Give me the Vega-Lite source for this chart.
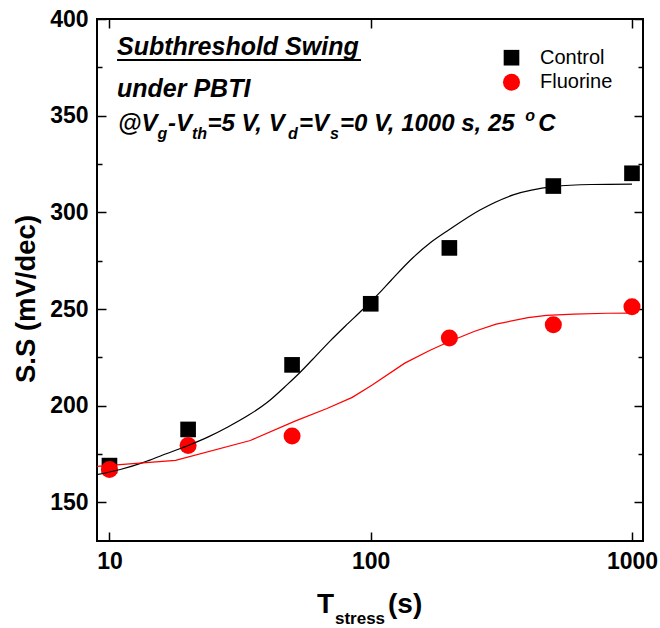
{
  "$schema": "https://vega.github.io/schema/vega-lite/v6.json",
  "width": 546,
  "height": 522,
  "autosize": {"type": "none"},
  "padding": {"left": 97, "top": 19, "right": 17, "bottom": 87},
  "background": "white",
  "config": {
    "view": {"stroke": "black", "strokeWidth": 2},
    "font": "Liberation Sans",
    "axis": {"grid": false, "domain": false, "tickColor": "black", "tickWidth": 1.5, "labelColor": "black", "labelFont": "Liberation Sans", "labelFontWeight": "bold", "labelFontSize": 23},
    "style": {
      "ann": {"font": "Liberation Sans", "fontWeight": "bold", "fontStyle": "italic", "fontSize": 24, "align": "left", "baseline": "alphabetic", "color": "black"},
      "sub": {"font": "Liberation Sans", "fontWeight": "bold", "fontStyle": "italic", "fontSize": 16, "align": "left", "baseline": "alphabetic", "color": "black"},
      "xt": {"font": "Liberation Sans", "fontWeight": "bold", "fontSize": 28, "align": "left", "baseline": "alphabetic", "color": "black"}
    }
  },
  "datasets": {
    "one": [{}],
    "points": [
      {"t": 10, "ss": 169, "series": "Control"},
      {"t": 20, "ss": 187.7, "series": "Control"},
      {"t": 50, "ss": 221.1, "series": "Control"},
      {"t": 100, "ss": 252.7, "series": "Control"},
      {"t": 200, "ss": 281.6, "series": "Control"},
      {"t": 500, "ss": 313.6, "series": "Control"},
      {"t": 1000, "ss": 320.2, "series": "Control"},
      {"t": 10, "ss": 167, "series": "Fluorine"},
      {"t": 20, "ss": 179.4, "series": "Fluorine"},
      {"t": 50, "ss": 184.3, "series": "Fluorine"},
      {"t": 200, "ss": 235, "series": "Fluorine"},
      {"t": 500, "ss": 241.9, "series": "Fluorine"},
      {"t": 1000, "ss": 251.2, "series": "Fluorine"}
    ],
    "fits": [
      {"t": 8.96, "ss": 164.3, "series": "Control"},
      {"t": 11, "ss": 167, "series": "Control"},
      {"t": 13.6, "ss": 170.8, "series": "Control"},
      {"t": 16, "ss": 174.5, "series": "Control"},
      {"t": 20, "ss": 179.4, "series": "Control"},
      {"t": 24, "ss": 184, "series": "Control"},
      {"t": 28.4, "ss": 189, "series": "Control"},
      {"t": 34, "ss": 195, "series": "Control"},
      {"t": 40, "ss": 201.5, "series": "Control"},
      {"t": 48, "ss": 211, "series": "Control"},
      {"t": 53, "ss": 216.5, "series": "Control"},
      {"t": 60, "ss": 224, "series": "Control"},
      {"t": 70, "ss": 233.5, "series": "Control"},
      {"t": 80, "ss": 241.2, "series": "Control"},
      {"t": 93, "ss": 249.6, "series": "Control"},
      {"t": 108, "ss": 258.3, "series": "Control"},
      {"t": 120, "ss": 265, "series": "Control"},
      {"t": 145, "ss": 276.5, "series": "Control"},
      {"t": 170, "ss": 284.5, "series": "Control"},
      {"t": 200, "ss": 291.1, "series": "Control"},
      {"t": 262, "ss": 301.2, "series": "Control"},
      {"t": 351, "ss": 309, "series": "Control"},
      {"t": 500, "ss": 313.3, "series": "Control"},
      {"t": 700, "ss": 314.4, "series": "Control"},
      {"t": 1000, "ss": 314.6, "series": "Control"},
      {"t": 8.96, "ss": 168.6, "series": "Fluorine"},
      {"t": 17.9, "ss": 171.7, "series": "Fluorine"},
      {"t": 34.6, "ss": 182, "series": "Fluorine"},
      {"t": 51.3, "ss": 192, "series": "Fluorine"},
      {"t": 68, "ss": 198.5, "series": "Fluorine"},
      {"t": 85, "ss": 204.3, "series": "Fluorine"},
      {"t": 101, "ss": 210.5, "series": "Fluorine"},
      {"t": 135, "ss": 222, "series": "Fluorine"},
      {"t": 168, "ss": 228.5, "series": "Fluorine"},
      {"t": 200, "ss": 233.2, "series": "Fluorine"},
      {"t": 250, "ss": 238.5, "series": "Fluorine"},
      {"t": 302, "ss": 242.2, "series": "Fluorine"},
      {"t": 400, "ss": 245.5, "series": "Fluorine"},
      {"t": 471, "ss": 246.7, "series": "Fluorine"},
      {"t": 600, "ss": 247.4, "series": "Fluorine"},
      {"t": 800, "ss": 247.8, "series": "Fluorine"},
      {"t": 1000, "ss": 247.9, "series": "Fluorine"}
    ]
  },
  "layer": [
    {
      "data": {"name": "points"},
      "mark": {"type": "point", "filled": true, "opacity": 1, "strokeWidth": 0},
      "encoding": {
        "x": {"field": "t", "type": "quantitative", "scale": {"type": "log", "domain": [8.96, 1102], "nice": false},
              "axis": {"orient": "bottom", "values": [10, 100, 1000], "format": "d", "tickSize": -9, "labelPadding": 18, "title": null}},
        "y": {"field": "ss", "type": "quantitative", "scale": {"domain": [130, 400], "nice": false, "zero": false},
              "axis": {"orient": "left", "values": [150, 200, 250, 300, 350, 400], "tickSize": -9, "labelPadding": 18, "title": null}},
        "color": {"field": "series", "type": "nominal", "scale": {"domain": ["Control", "Fluorine"], "range": ["#000000", "#ff0000"]},
                  "legend": {"orient": "none", "legendX": 404.5, "legendY": 28.7, "title": null, "padding": 0, "labelOffset": 18.5, "rowPadding": 4.6, "labelFont": "Liberation Sans", "labelFontSize": 20, "labelFontWeight": "normal", "labelColor": "black", "symbolStrokeWidth": 0}},
        "shape": {"field": "series", "type": "nominal", "scale": {"domain": ["Control", "Fluorine"], "range": ["square", "circle"]}},
        "size": {"field": "series", "type": "nominal", "scale": {"domain": ["Control", "Fluorine"], "range": [245, 290]}}
      }
    },
    {
      "data": {"name": "points"},
      "mark": {"type": "point", "opacity": 0},
      "encoding": {
        "x": {"field": "t", "type": "quantitative", "axis": {"orient": "top", "values": [10, 100, 1000], "labels": false, "tickSize": -9, "title": null}},
        "y": {"field": "ss", "type": "quantitative", "axis": {"orient": "right", "values": [150, 200, 250, 300, 350, 400], "labels": false, "tickSize": -9, "title": null}}
      }
    },
    {
      "data": {"name": "points"},
      "mark": {"type": "point", "opacity": 0},
      "encoding": {
        "x": {"field": "t", "type": "quantitative", "axis": null},
        "y": {"field": "ss", "type": "quantitative", "axis": {"orient": "left", "values": [175, 225, 275, 325, 375], "labels": false, "tickSize": -5, "title": null}}
      }
    },
    {
      "data": {"name": "points"},
      "mark": {"type": "point", "opacity": 0},
      "encoding": {
        "x": {"field": "t", "type": "quantitative", "axis": null},
        "y": {"field": "ss", "type": "quantitative", "axis": {"orient": "right", "values": [175, 225, 275, 325, 375], "labels": false, "tickSize": -5, "title": null}}
      }
    },
    {
      "data": {"name": "fits"},
      "transform": [{"filter": "datum.series === 'Control'"}],
      "mark": {"type": "line", "color": "black", "strokeWidth": 1.2, "interpolate": "monotone"},
      "encoding": {
        "x": {"field": "t", "type": "quantitative", "axis": null},
        "y": {"field": "ss", "type": "quantitative", "axis": null}
      }
    },
    {
      "data": {"name": "fits"},
      "transform": [{"filter": "datum.series === 'Fluorine'"}],
      "mark": {"type": "line", "color": "#ff0000", "strokeWidth": 1.2},
      "encoding": {
        "x": {"field": "t", "type": "quantitative", "axis": null},
        "y": {"field": "ss", "type": "quantitative", "axis": null}
      }
    },
    {"data": {"name": "one"}, "mark": {"type": "text", "style": "ann", "fontSize": 25, "text": "Subthreshold Swing"},
     "encoding": {"x": {"datum": 10.69, "type": "quantitative", "axis": null}, "y": {"datum": 381.38, "type": "quantitative", "axis": null}}},
    {"data": {"name": "one"}, "mark": {"type": "rule", "color": "black", "strokeWidth": 2},
     "encoding": {"x": {"datum": 10.69, "type": "quantitative", "axis": null}, "x2": {"datum": 91.8}, "y": {"datum": 378.79, "type": "quantitative", "axis": null}}},
    {"data": {"name": "one"}, "mark": {"type": "text", "style": "ann", "fontSize": 25, "text": "under PBTI"},
     "encoding": {"x": {"datum": 10.69, "type": "quantitative", "axis": null}, "y": {"datum": 359.65, "type": "quantitative", "axis": null}}},
    {"data": {"name": "one"}, "mark": {"type": "text", "style": "ann", "text": "@V"},
     "encoding": {"x": {"datum": 10.782, "type": "quantitative", "axis": null}, "y": {"datum": 342.07, "type": "quantitative", "axis": null}}},
    {"data": {"name": "one"}, "mark": {"type": "text", "style": "sub", "text": "g"},
     "encoding": {"x": {"datum": 15.277, "type": "quantitative", "axis": null}, "y": {"datum": 337.93, "type": "quantitative", "axis": null}}},
    {"data": {"name": "one"}, "mark": {"type": "text", "style": "ann", "text": "-V"},
     "encoding": {"x": {"datum": 16.753, "type": "quantitative", "axis": null}, "y": {"datum": 342.07, "type": "quantitative", "axis": null}}},
    {"data": {"name": "one"}, "mark": {"type": "text", "style": "sub", "text": "th"},
     "encoding": {"x": {"datum": 20.7, "type": "quantitative", "axis": null}, "y": {"datum": 337.93, "type": "quantitative", "axis": null}}},
    {"data": {"name": "one"}, "mark": {"type": "text", "style": "ann", "text": "=5 V, V"},
     "encoding": {"x": {"datum": 23.73, "type": "quantitative", "axis": null}, "y": {"datum": 342.07, "type": "quantitative", "axis": null}}},
    {"data": {"name": "one"}, "mark": {"type": "text", "style": "sub", "text": "d"},
     "encoding": {"x": {"datum": 48.25, "type": "quantitative", "axis": null}, "y": {"datum": 337.93, "type": "quantitative", "axis": null}}},
    {"data": {"name": "one"}, "mark": {"type": "text", "style": "ann", "text": "=V"},
     "encoding": {"x": {"datum": 53.15, "type": "quantitative", "axis": null}, "y": {"datum": 342.07, "type": "quantitative", "axis": null}}},
    {"data": {"name": "one"}, "mark": {"type": "text", "style": "sub", "text": "s"},
     "encoding": {"x": {"datum": 69.86, "type": "quantitative", "axis": null}, "y": {"datum": 337.93, "type": "quantitative", "axis": null}}},
    {"data": {"name": "one"}, "mark": {"type": "text", "style": "ann", "text": "=0 V, 1000 s, 25"},
     "encoding": {"x": {"datum": 76.27, "type": "quantitative", "axis": null}, "y": {"datum": 342.07, "type": "quantitative", "axis": null}}},
    {"data": {"name": "one"}, "mark": {"type": "text", "style": "sub", "text": "o"},
     "encoding": {"x": {"datum": 390, "type": "quantitative", "axis": null}, "y": {"datum": 347.24, "type": "quantitative", "axis": null}}},
    {"data": {"name": "one"}, "mark": {"type": "text", "style": "ann", "text": "C"},
     "encoding": {"x": {"datum": 438, "type": "quantitative", "axis": null}, "y": {"datum": 342.07, "type": "quantitative", "axis": null}}},
    {"data": {"name": "one"}, "mark": {"type": "text", "style": "xt", "text": "T"},
     "encoding": {"x": {"datum": 62.29, "type": "quantitative", "axis": null}, "y": {"datum": 92.76, "type": "quantitative", "axis": null}}},
    {"data": {"name": "one"}, "mark": {"type": "text", "style": "xt", "text": "stress", "fontSize": 17},
     "encoding": {"x": {"datum": 72.98, "type": "quantitative", "axis": null}, "y": {"datum": 87.07, "type": "quantitative", "axis": null}}},
    {"data": {"name": "one"}, "mark": {"type": "text", "style": "xt", "text": "(s)"},
     "encoding": {"x": {"datum": 116.5, "type": "quantitative", "axis": null}, "y": {"datum": 92.76, "type": "quantitative", "axis": null}}},
    {"data": {"name": "one"}, "mark": {"type": "text", "text": "S.S (mV/dec)", "font": "Liberation Sans", "fontWeight": "bold", "fontSize": 27.5, "angle": 270, "align": "center", "baseline": "alphabetic", "color": "black"},
     "encoding": {"x": {"datum": 5.188, "type": "quantitative", "axis": null}, "y": {"datum": 255.17, "type": "quantitative", "axis": null}}}
  ],
  "resolve": {"axis": {"x": "independent", "y": "independent"}}
}
